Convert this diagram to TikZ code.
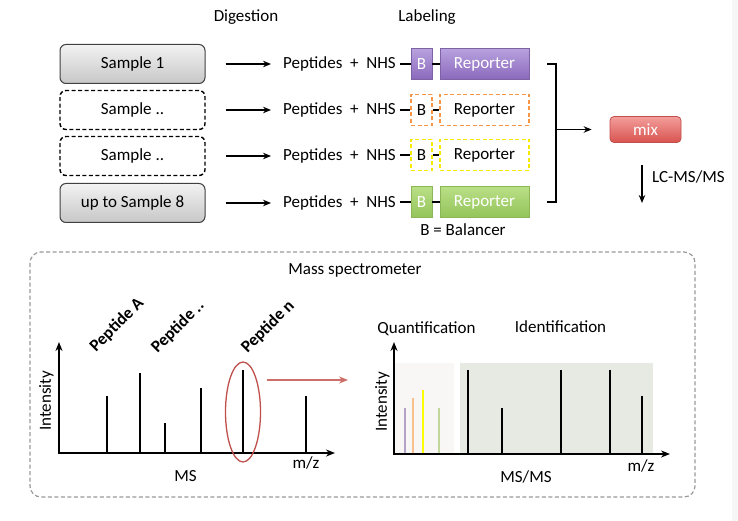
\documentclass[tikz,border=0pt]{standalone}
\usepackage{fontspec}
\setmainfont{Carlito}
\usetikzlibrary{arrows.meta,shapes.geometric}
\definecolor{stripgray}{HTML}{F6F6F6}
\definecolor{boxedge}{HTML}{404040}
\definecolor{purpTop}{HTML}{B8A2DE}
\definecolor{purpBot}{HTML}{8A68BC}
\definecolor{purpEdge}{HTML}{7E62A3}
\definecolor{greenTop}{HTML}{BADF86}
\definecolor{greenBot}{HTML}{93C45A}
\definecolor{greenEdge}{HTML}{8DB657}
\definecolor{orangeD}{HTML}{F79646}
\definecolor{yellowD}{HTML}{F5EA00}
\definecolor{mixTop}{HTML}{F29E9B}
\definecolor{mixBot}{HTML}{D9534F}
\definecolor{mixEdge}{HTML}{C0504D}
\definecolor{msgray}{HTML}{9A9A9A}
\definecolor{ellred}{HTML}{C0504D}
\definecolor{arrred}{HTML}{CC6F6B}
\definecolor{quantbg}{HTML}{F9F7F5}
\definecolor{identbg}{HTML}{E7EAE2}
\definecolor{pkPurple}{HTML}{B3A2C7}
\definecolor{pkOrange}{HTML}{FAC090}
\definecolor{pkYellow}{HTML}{FFFF00}
\definecolor{pkGreen}{HTML}{C3D69B}
\tikzset{
  txt/.style={inner sep=0pt},
  samplebox/.style={draw=boxedge, line width=1pt, rounded corners=6pt, top color=white!95!black, bottom color=white!78!black, minimum width=145pt, minimum height=39pt, inner sep=0pt},
  dsample/.style={draw=black, line width=1.4pt, dash pattern=on 4pt off 2.5pt, rounded corners=6pt, fill=white, minimum width=145pt, minimum height=39pt, inner sep=0pt},
  arr/.style={line width=1.4pt, -{Stealth[length=8pt,width=6.5pt]}},
  link/.style={line width=1.6pt},
  bpurple/.style={draw=purpEdge, line width=0.8pt, top color=purpTop, bottom color=purpBot, text=white, inner sep=0pt},
  bgreen/.style={draw=greenEdge, line width=0.8pt, top color=greenTop, bottom color=greenBot, text=white, inner sep=0pt},
  borange/.style={draw=orangeD, line width=1.4pt, dash pattern=on 4pt off 2.5pt, inner sep=0pt},
  byellow/.style={draw=yellowD, line width=1.4pt, dash pattern=on 4pt off 2.5pt, inner sep=0pt},
  bsize/.style={minimum width=21pt, minimum height=31pt},
  rsize/.style={minimum width=89pt, minimum height=31pt},
  mixbox/.style={draw=mixEdge, line width=0.8pt, rounded corners=4pt, top color=mixTop, bottom color=mixBot, text=white, minimum width=71pt, minimum height=26pt, inner sep=0pt},
  msbox/.style={draw=msgray, line width=1.2pt, dash pattern=on 4pt off 2.5pt, rounded corners=11pt},
  axis/.style={line width=1.8pt, {Stealth[length=9pt,width=7pt]}-{Stealth[length=9pt,width=7pt]}},
  peak/.style={line width=2.2pt},
  cpeak/.style={line width=2pt},
  plabel/.style={inner sep=0pt, font=\fontsize{17}{20}\selectfont\bfseries, rotate=45},
}
\begin{document}
\begin{tikzpicture}[x=1pt,y=-1pt,font=\fontsize{17}{20}\selectfont]
\useasboundingbox (0,0) rectangle (738,521);
\fill[white] (0,0) rectangle (738,521);
\fill[stripgray] (732,0) rectangle (738,521);

% headers
\node[txt] (dig) at (246,17) {Digestion};
\node[txt] (lab) at (427,17) {Labeling};

% samples
\node[samplebox] (s1) at (132.5,64) {Sample 1};
\node[dsample] (s2) at (132.5,110) {Sample ..};
\node[dsample] (s3) at (132.5,156) {Sample ..};
\node[samplebox] (s4) at (132.5,203) {up to Sample 8};

% peptides
\node[txt, anchor=west] (p1) at (283,64) {Peptides\ \ +\ \ NHS};
\node[txt, anchor=west] (p2) at (283,110) {Peptides\ \ +\ \ NHS};
\node[txt, anchor=west] (p3) at (283,156) {Peptides\ \ +\ \ NHS};
\node[txt, anchor=west] (p4) at (283,203) {Peptides\ \ +\ \ NHS};

\foreach \i in {1,2,3,4}{
  \draw[arr, shorten <=20pt, shorten >=12pt] (s\i) -- (p\i);
}

% labels B / Reporter
\node[bpurple, bsize] (b1) at (421.5,64) {B};
\node[bpurple, rsize] (r1) at (484.5,64) {Reporter};
\node[borange, bsize] (b2) at (421.5,110) {B};
\node[borange, rsize] (r2) at (484.5,110) {Reporter};
\node[byellow, bsize] (b3) at (421.5,155) {B};
\node[byellow, rsize] (r3) at (484.5,155) {Reporter};
\node[bgreen, bsize] (b4) at (421.5,202) {B};
\node[bgreen, rsize] (r4) at (484.5,202) {Reporter};

\foreach \i in {1,2,3,4}{
  \draw[link, shorten <=4pt] (p\i.east |- b\i) -- (b\i);
  \draw[link] (b\i) -- (r\i);
}

\node[txt] (bal) at (463,230) {B = Balancer};

% bracket and mix
\draw[link] (547,64) -- (556,64) -- (556,202) -- (547,202);
\coordinate (brk) at (556,129.5);
\node[mixbox] (mix) at (645.5,129.5) {mix};
\draw[arr, shorten >=18pt] (brk) -- (mix);

\coordinate (lcend) at (642,203);
\draw[arr, shorten <=22pt] (mix.south -| lcend) -- (lcend);
\node[txt, anchor=west] (lc) at (652,177) {LC-MS/MS};

% mass spectrometer box
\draw[msbox] (30,252) rectangle (695,497);
\node[txt] (mstitle) at (355,270) {Mass spectrometer};

% MS spectrum
\draw[axis] (59,342) -- (59,453) -- (335,453);
\draw[peak] (107,453) -- (107,396);
\draw[peak] (140,453) -- (140,373);
\draw[peak] (165,453) -- (165,423);
\draw[peak] (201,453) -- (201,388);
\draw[peak] (243,453) -- (243,370);
\draw[peak] (306,453) -- (306,396);
\node[txt, rotate=90] (int1) at (46.5,401) {Intensity};
\node[txt] (ms) at (185.5,476) {MS};
\node[txt] (mz1) at (306,463) {m/z};
\node[plabel] (pa) at (117,325) {Peptide A};
\node[plabel] (pdots) at (178,327) {Peptide ..};
\node[plabel] (pn) at (268,327) {Peptide n};

\node[draw=ellred, line width=1.3pt, ellipse, minimum width=35pt, minimum height=100pt, inner sep=0pt] (sel) at (243,412) {};
\coordinate (ra) at (267,380);
\coordinate (rb) at (348,380);
\draw[draw=arrred, line width=1.5pt, -{Stealth[length=9pt,width=7pt]}] (ra) -- (rb);

% MS/MS spectrum
\fill[quantbg] (395,363) rectangle (454,453);
\fill[identbg] (460,363) rectangle (653,453);
\draw[cpeak, pkPurple] (405,453) -- (405,408);
\draw[cpeak, pkOrange] (413,453) -- (413,398);
\draw[cpeak, pkYellow] (423,453) -- (423,390);
\draw[cpeak, pkGreen] (439,453) -- (439,408);
\draw[peak] (468,453) -- (468,370);
\draw[peak] (502,453) -- (502,408);
\draw[peak] (561,453) -- (561,370);
\draw[peak] (610,453) -- (610,370);
\draw[peak] (642,453) -- (642,396);
\draw[axis] (394,342) -- (394,454) -- (670,454);
\node[txt] (quant) at (426.5,329) {Quantification};
\node[txt] (ident) at (560.5,327) {Identification};
\node[txt, rotate=90] (int2) at (382.5,402) {Intensity};
\node[txt] (msms) at (526,477) {MS/MS};
\node[txt] (mz2) at (641,466) {m/z};
\end{tikzpicture}
\end{document}
